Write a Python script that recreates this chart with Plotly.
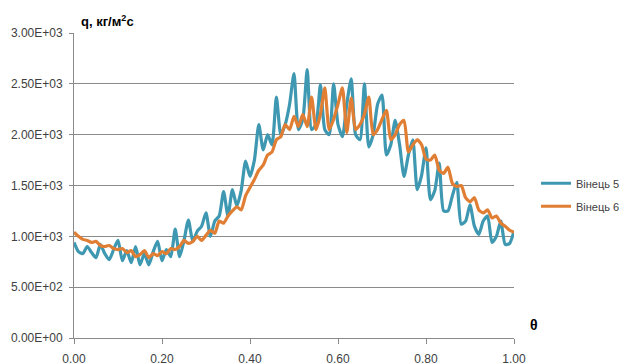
import plotly.graph_objects as go

theta = [round(i * 0.01, 2) for i in range(101)]

vinets5 = [
    940, 850, 830, 900, 840, 790, 920, 830, 770, 870,
    960, 760, 860, 740, 900, 720, 830, 720, 850, 950,
    760, 870, 800, 1070, 800, 960, 1160, 950, 1050, 1100,
    1230, 1000, 1150, 1200, 1440, 1200, 1460, 1300, 1450, 1740,
    1590, 1750, 2100, 1850, 2000, 1900, 2370, 2000, 2100, 2300,
    2600, 2050, 2150, 2640, 2050, 2100, 2490, 2050, 2000, 2500,
    2100, 1980, 2300, 2550, 2000, 1950, 2500, 1880, 2000, 2300,
    2390, 1800, 1900, 2140, 1900, 1590, 1800, 1950, 1460, 1600,
    1870, 1360, 1450, 1720, 1250, 1250, 1400, 1530, 1120, 1150,
    1310, 1100, 1020, 1150, 1200, 940, 1000, 1150, 920, 930,
    1050,
]

vinets6 = [
    1040, 1000, 970, 960, 940, 950, 910, 900, 910, 880,
    870, 880, 840, 860, 800, 820, 860, 790, 830, 810,
    850, 830, 880, 870, 900, 960, 930, 950, 1000, 960,
    1010, 1060, 1030, 1150, 1130, 1200, 1250, 1290, 1260, 1400,
    1480, 1560, 1650, 1700, 1800, 1830, 1950, 1980, 2100, 2050,
    2180, 2080, 2200, 2080, 2370, 2050, 2200, 2460, 2050, 2150,
    2300, 2460, 2020, 2360, 2050, 2100, 2200, 2370, 2000, 2050,
    2150, 2240, 1950, 2000, 2100, 2140, 1830, 1900, 1950, 1900,
    1760, 1750, 1800, 1650, 1620, 1680, 1520, 1490, 1500, 1380,
    1340, 1380, 1260, 1230, 1260, 1180, 1200, 1130, 1100, 1060,
    1040,
]

series_names = ["Вінець 5", "Вінець 6"]
y_tickvals = [0, 500, 1000, 1500, 2000, 2500, 3000]
y_ticktext = ["0.00E+00", "5.00E+02", "1.00E+03", "1.50E+03", "2.00E+03", "2.50E+03", "3.00E+03"]
x_tickvals = [0, 0.2, 0.4, 0.6, 0.8, 1.0]
x_ticktext = ["0.00", "0.20", "0.40", "0.60", "0.80", "1.00"]

TEAL = "#3E98B1"
ORANGE = "#E07E34"
GRID = "#8A8A8A"
TXT = "#404040"
FONT = "Liberation Sans"

fig = go.Figure()
fig.add_trace(go.Scatter(x=theta, y=vinets5, mode="lines", name=series_names[0], legendgroup="a",
                         line=dict(color=TEAL, width=3.2, shape="spline", smoothing=0.6)))
fig.add_trace(go.Scatter(x=theta, y=vinets6, mode="lines", name=series_names[1], legendgroup="b",
                         line=dict(color=ORANGE, width=3.2, shape="spline", smoothing=0.6)))

fig.update_layout(
    width=622, height=363,
    margin=dict(l=74, r=108, t=33, b=25, autoexpand=False),
    plot_bgcolor="white", paper_bgcolor="white",
    font=dict(family=FONT, size=12, color=TXT),
    showlegend=True,
    legend=dict(x=1.05, xanchor="left", y=0.555, yanchor="top",
                font=dict(family=FONT, size=11, color=TXT),
                bgcolor="rgba(0,0,0,0)", tracegroupgap=4, itemwidth=30),
    xaxis=dict(range=[0, 1], tickvals=x_tickvals, ticktext=x_ticktext, automargin=False,
               showgrid=False, zeroline=False, showline=True, linecolor=GRID, linewidth=1,
               ticks="outside", ticklen=5, tickcolor=GRID, ticklabelstandoff=5,
               tickfont=dict(family=FONT, size=12, color=TXT)),
    yaxis=dict(range=[0, 3000], tickvals=y_tickvals, ticktext=y_ticktext, automargin=False,
               showgrid=True, gridcolor=GRID, gridwidth=1, zeroline=False,
               showline=True, linecolor=GRID, linewidth=1,
               ticks="outside", ticklen=4, tickcolor=GRID, ticklabelstandoff=4,
               tickfont=dict(family=FONT, size=12, color=TXT)),
)

fig.add_annotation(text="<b>q, кг/м<sup>2</sup>с</b>", xref="paper", yref="paper",
                   x=0.012, y=1.0, xanchor="left", yanchor="bottom", yshift=2,
                   showarrow=False, font=dict(family=FONT, size=13, color="#000000"))
fig.add_annotation(text="<b>θ</b>", xref="paper", yref="paper",
                   x=1.045, y=0.043, xanchor="center", yanchor="middle",
                   showarrow=False, font=dict(family=FONT, size=14, color="#000000"))

fig.write_html("out.html")
